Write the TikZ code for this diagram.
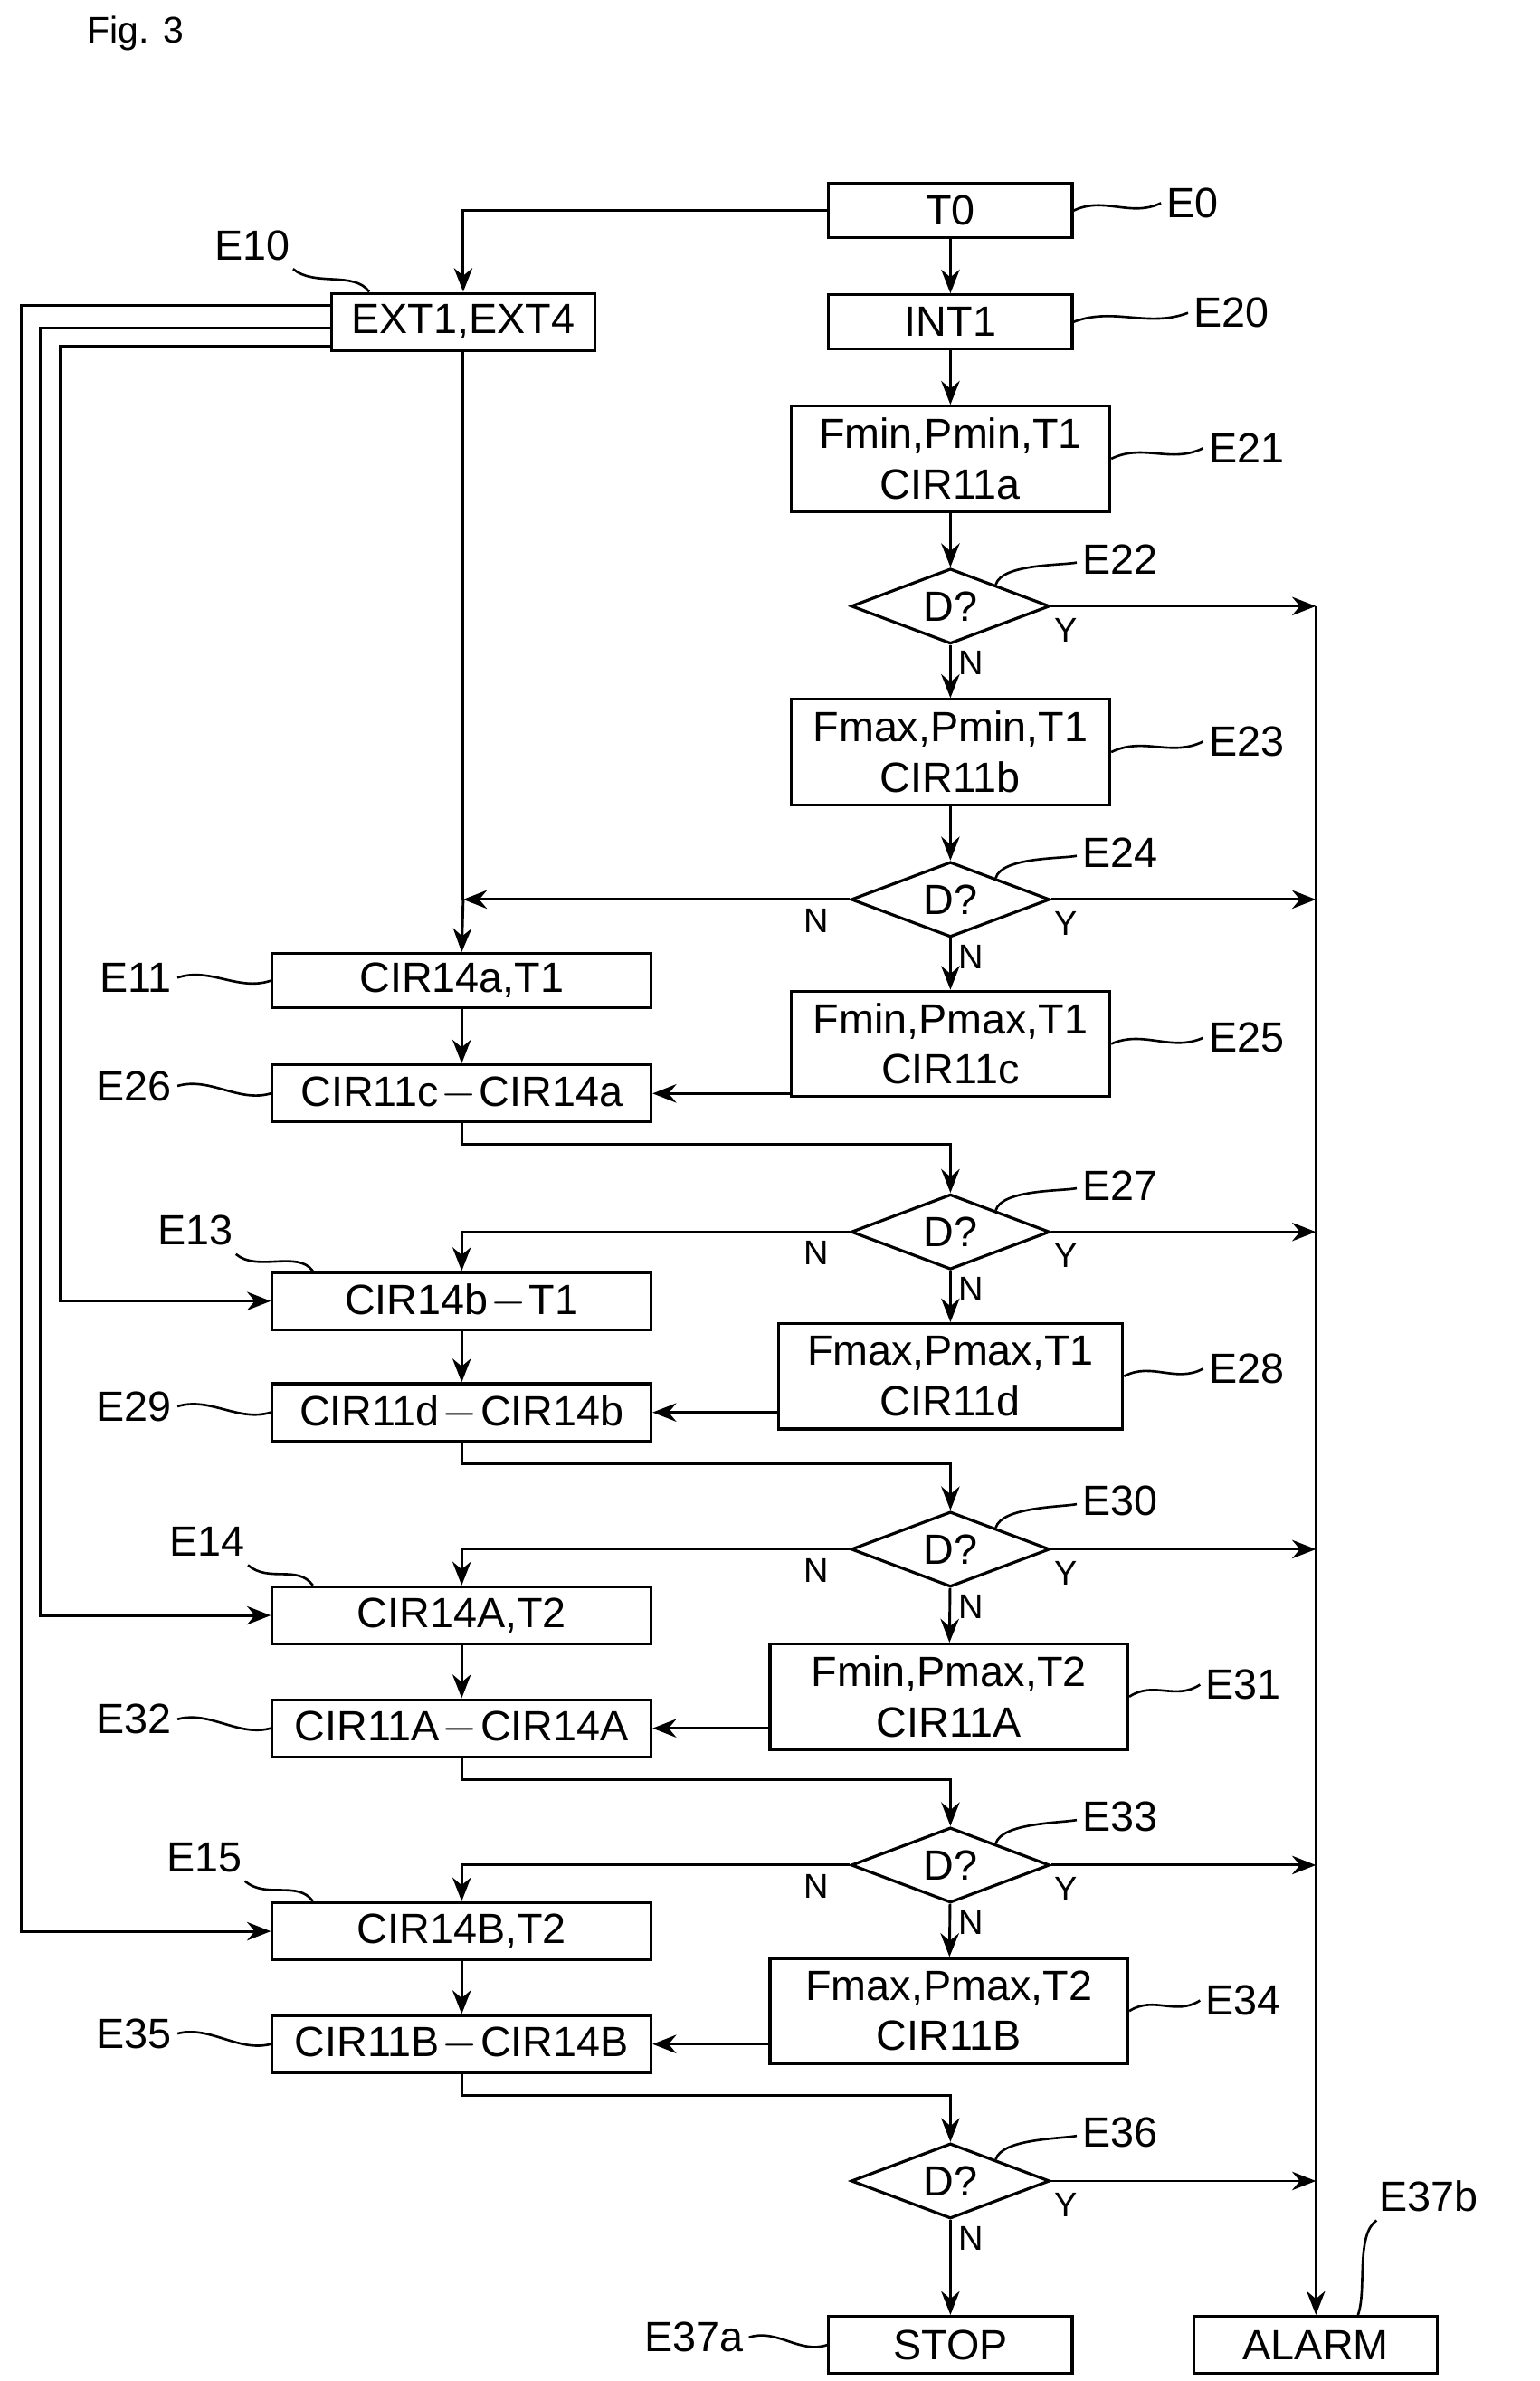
\documentclass[tikz,border=0pt]{standalone}
\usepackage{fontspec}
\setmainfont{Liberation Sans}
\usetikzlibrary{shapes.geometric,arrows.meta,calc}
\begin{document}
\begin{tikzpicture}[x=0.02cm,y=-0.02cm,
  every node/.style={font=\fontsize{16}{19}\selectfont},
  box/.style={draw,line width=1.1pt,inner sep=0,align=center},
  sbox/.style={box,minimum width=3.24cm,minimum height=0.72cm},
  bbox/.style={box,minimum width=4.24cm,minimum height=1.4cm},
  lbox/.style={box,minimum width=5.04cm,minimum height=0.76cm},
  dia/.style={draw,line width=1.1pt,diamond,minimum width=2.64cm,minimum height=1cm,inner sep=0,shape aspect=2.6},
  lbl/.style={inner sep=2pt},
  yn/.style={inner sep=0,font=\fontsize{13}{15}\selectfont},
  line/.style={line width=1pt},
  arr/.style={line width=1pt,-{Stealth[length=9pt,width=7pt]}},
  lead/.style={line width=0.9pt}]
\newcommand\sq[2]{\draw[lead] (#1) .. controls ($(#1)!0.35!(#2)+(0,-8)$) and ($(#1)!0.65!(#2)+(0,8)$) .. (#2);}
\useasboundingbox (0,0) rectangle (1024,1583);
\node[anchor=west,font=\fontsize{14}{16}\selectfont] (fig) at (52,22) {Fig. 3};
% right column
\node[sbox] (e0) at (632,140) {T0};
\node[sbox] (e20) at (632,214) {INT1};
\node[bbox] (e21) at (632,305) {Fmin,Pmin,T1\\CIR11a};
\node[dia] (d22) at (632,403) {D?};
\node[bbox] (e23) at (632,500) {Fmax,Pmin,T1\\CIR11b};
\node[dia] (d24) at (632,598) {D?};
\node[bbox] (e25) at (632,694) {Fmin,Pmax,T1\\CIR11c};
\node[dia] (d27) at (632,819) {D?};
\node[box,minimum width=4.58cm,minimum height=1.4cm] (e28) at (632,915) {Fmax,Pmax,T1\\CIR11d};
\node[dia] (d30) at (632,1030) {D?};
\node[box,minimum width=4.76cm,minimum height=1.4cm] (e31) at (631,1128) {Fmin,Pmax,T2\\CIR11A};
\node[dia] (d33) at (632,1240) {D?};
\node[box,minimum width=4.76cm,minimum height=1.4cm] (e34) at (631,1337) {Fmax,Pmax,T2\\CIR11B};
\node[dia] (d36) at (632,1450) {D?};
\node[sbox,minimum height=0.76cm] (stop) at (632,1559) {STOP};
\node[sbox,minimum height=0.76cm] (alarm) at (875,1559) {ALARM};
% left column
\node[box,minimum width=3.5cm,minimum height=0.76cm] (ext) at (308,214) {EXT1,EXT4};
\node[lbox,minimum height=0.72cm] (e11) at (307,652) {CIR14a,T1};
\node[lbox] (e26) at (307,727) {CIR11c{\kern1pt}$-${\kern1pt}CIR14a};
\node[lbox] (e13) at (307,865) {CIR14b{\kern1pt}$-${\kern1pt}T1};
\node[lbox] (e29) at (307,939) {CIR11d{\kern1pt}$-${\kern1pt}CIR14b};
\node[lbox] (e14) at (307,1074) {CIR14A,T2};
\node[lbox] (e32) at (307,1149) {CIR11A{\kern1pt}$-${\kern1pt}CIR14A};
\node[lbox] (e15) at (307,1284) {CIR14B,T2};
\node[lbox] (e35) at (307,1359) {CIR11B{\kern1pt}$-${\kern1pt}CIR14B};
% right column flow
\draw[arr] (e0) -- (e20);
\draw[arr] (e20) -- (e21);
\draw[arr] (e21) -- (d22);
\draw[arr] (d22) -- (e23);
\draw[arr] (e23) -- (d24);
\draw[arr] (d24) -- (e25);
\draw[arr] (d27) -- (e28);
\draw[arr] (d30) -- (e31);
\draw[arr] (d33) -- (e34);
\draw[arr] (d36) -- (stop);
% alarm bus
\coordinate (a22) at (alarm.north |- d22.east);
\foreach \d in {d24,d27,d30,d33,d36}{\coordinate (a\d) at (alarm.north |- \d.east);}
\draw[arr] (d22.east) -- (a22);
\foreach \d in {d24,d27,d30,d33,d36}{\draw[arr] (\d.east) -- (a\d);}
\draw[arr] (a22) -- (alarm.north);
% left flow
\coordinate (c0) at (ext.north |- e0.west);
\draw[arr] (e0.west) -- (c0) -- (ext.north);
\coordinate (c24) at (ext.south |- d24.west);
\draw[line] (ext.south) -- (c24);
\draw[arr] (d24.west) -- (c24);
\draw[arr] (c24) -- (e11.north);
\draw[arr] (e11) -- (e26);
\draw[arr] (e25.west |- e26.east) -- (e26.east);
\coordinate (c27) at (e13.north |- d27.west);
\draw[arr] (d27.west) -- (c27) -- (e13.north);
\draw[arr] (e13) -- (e29);
\draw[arr] (e28.west |- e29.east) -- (e29.east);
\coordinate (c30) at (e14.north |- d30.west);
\draw[arr] (d30.west) -- (c30) -- (e14.north);
\draw[arr] (e14) -- (e32);
\draw[arr] (e31.west |- e32.east) -- (e32.east);
\coordinate (c33) at (e15.north |- d33.west);
\draw[arr] (d33.west) -- (c33) -- (e15.north);
\draw[arr] (e15) -- (e35);
\draw[arr] (e34.west |- e35.east) -- (e35.east);
% boxes to diamonds
\draw[arr] (e26.south) -- ++(0,14) -| (d27.north);
\draw[arr] (e29.south) -- ++(0,14) -| (d30.north);
\draw[arr] (e32.south) -- ++(0,14) -| (d33.north);
\draw[arr] (e35.south) -- ++(0,14) -| (d36.north);
% EXT lines
\draw[arr] (ext.west |- 0,203) -- (14,203) |- (e15.west);
\draw[arr] (ext.west |- 0,218) -- (27,218) |- (e14.west);
\draw[arr] (ext.west |- 0,230) -- (40,230) |- (e13.west);
% Y/N labels
\foreach \d in {d22,d24,d27,d30,d33,d36}{
  \node[yn] at ($(\d.east)+(10,16)$) {Y};
  \node[yn] at ($(\d.south)+(14,12)$) {N};}
\foreach \d in {d24,d27,d30,d33}{\node[yn] at ($(\d.west)+(-22,14)$) {N};}
% right labels
\node[lbl,anchor=west] (l0) at (772,135) {E0};
\sq{e0.east}{l0.west}
\node[lbl,anchor=west] (l20) at (790,208) {E20};
\sq{e20.east}{l20.west}
\node[lbl,anchor=west] (l21) at (800,298) {E21};
\sq{e21.east}{l21.west}
\node[lbl,anchor=west] (l23) at (800,493) {E23};
\sq{e23.east}{l23.west}
\node[lbl,anchor=west] (l25) at (800,690) {E25};
\sq{e25.east}{l25.west}
\node[lbl,anchor=west] (l28) at (800,910) {E28};
\sq{e28.east}{l28.west}
\node[lbl,anchor=west] (l31) at (798,1120) {E31};
\sq{e31.east}{l31.west}
\node[lbl,anchor=west] (l34) at (798,1330) {E34};
\sq{e34.east}{l34.west}
\foreach \d/\n/\y in {d22/E22/372,d24/E24/567,d27/E27/788,d30/E30/998,d33/E33/1208,d36/E36/1418}{
  \node[lbl,anchor=west] (l\d) at (716,\y) {\n};
  \draw[lead] ($(\d.north)!0.45!(\d.east)$) .. controls +(4,-14) and +(-10,2) .. ($(l\d.west)+(0,2)$);}
% left labels
\node[lbl,anchor=east] (l11) at (118,650) {E11};
\sq{l11.east}{e11.west}
\node[lbl,anchor=east] (l26) at (118,722) {E26};
\sq{l26.east}{e26.west}
\node[lbl,anchor=east] (l29) at (118,935) {E29};
\sq{l29.east}{e29.west}
\node[lbl,anchor=east] (l32) at (118,1143) {E32};
\sq{l32.east}{e32.west}
\node[lbl,anchor=east] (l35) at (118,1352) {E35};
\sq{l35.east}{e35.west}
\node[lbl,anchor=east] (l37a) at (498,1554) {E37a};
\sq{l37a.east}{stop.west}
% top labels
\node[lbl] (l10) at (168,163) {E10};
\draw[lead] ($(l10.south east)+(-2,2)$) .. controls +(14,12) and +(-10,-14) .. ($(ext.north west)+(26,0)$);
\node[lbl] (l13) at (130,818) {E13};
\draw[lead] ($(l13.south east)+(-2,2)$) .. controls +(14,12) and +(-10,-14) .. ($(e13.north west)+(28,0)$);
\node[lbl] (l14) at (138,1025) {E14};
\draw[lead] ($(l14.south east)+(-2,2)$) .. controls +(14,12) and +(-10,-14) .. ($(e14.north west)+(28,0)$);
\node[lbl] (l15) at (136,1235) {E15};
\draw[lead] ($(l15.south east)+(-2,2)$) .. controls +(14,12) and +(-10,-14) .. ($(e15.north west)+(28,0)$);
\node[lbl] (l37b) at (950,1460) {E37b};
\draw[lead] ($(l37b.south west)+(2,2)$) .. controls +(-14,10) and +(6,-16) .. ($(alarm.north)+(28,0)$);
\end{tikzpicture}
\end{document}
